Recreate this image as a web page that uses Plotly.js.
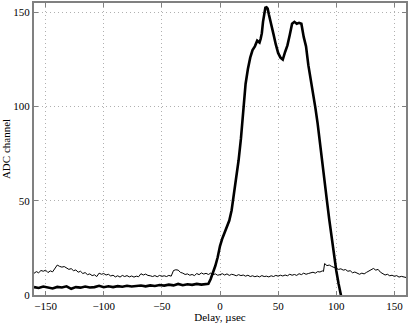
<!DOCTYPE html>
<html>
<head>
<meta charset="utf-8">
<script src="https://cdn.plot.ly/plotly-3.0.1.min.js"></script>
<style>
  html, body { margin: 0; padding: 0; background: #fff; }
  #plot { width: 409px; height: 323px; }
</style>
</head>
<body>
<div id="plot"></div>
<script>
// 細線（バックグラウンド）
const delayThin = [
  -160, -158, -156, -154, -152, -150, -148, -146, -144, -142, -140, -138, -136, -134, -132, -130,
  -128, -126, -124, -122, -120, -118, -116, -114, -112, -110, -108, -106, -104, -102, -100, -98,
  -96, -94, -92, -90, -88, -86, -84, -82, -80, -78, -76, -74, -72, -70, -68, -66,
  -64, -62, -60, -58, -56, -54, -52, -50, -48, -46, -44, -42, -40, -38, -36, -34,
  -32, -30, -28, -26, -24, -22, -20, -18, -16, -14, -12, -10, -8, -6, -4, -2,
  0, 2, 4, 6, 8, 10, 12, 14, 16, 18, 20, 22, 24, 26, 28, 30,
  32, 34, 36, 38, 40, 42, 44, 46, 48, 50, 52, 54, 56, 58, 60, 62,
  64, 66, 68, 70, 72, 74, 76, 78, 80, 82, 84, 86, 88, 89, 90, 92,
  94, 96, 98, 100, 102, 104, 106, 108, 110, 112, 114, 116, 118, 120, 122, 124,
  126, 128, 130, 132, 134, 136, 138, 140, 142, 144, 146, 148, 150, 152, 154, 156, 158, 160
];
const adcThin = [
  11.5, 12.4, 11.8, 13.0, 12.6, 13.2, 11.9, 12.8, 12.3, 14.2, 15.9, 15.2, 14.8, 15.1, 14.2, 13.6,
  14.0, 12.9, 13.3, 12.1, 12.6, 11.4, 11.9, 10.8, 11.2, 10.3, 10.7, 9.8, 11.6, 11.0, 11.4, 10.6,
  11.0, 10.1, 10.5, 9.6, 10.2, 9.5, 10.4, 9.8, 10.3, 9.6, 10.1, 9.5, 10.0, 9.7, 11.3, 10.6,
  11.1, 10.4, 10.2, 9.8, 10.3, 9.7, 10.4, 9.9, 10.2, 9.8, 10.4, 10.0, 13.0, 13.4, 13.2, 12.0,
  11.6, 10.9, 11.2, 10.5, 10.9, 10.3, 11.4, 10.8, 11.7, 11.1, 11.5, 10.9, 11.6, 10.8, 11.2, 10.5,
  10.8, 11.3, 10.6, 11.2, 10.4, 11.0, 10.7, 10.2, 10.8, 10.3, 10.6, 10.0, 10.5, 9.8, 10.2, 9.7,
  10.1, 9.6, 10.3, 9.8, 10.0, 9.6, 10.2, 9.8, 10.4, 10.0, 10.5, 10.1, 10.6, 10.2, 11.0, 10.5,
  10.9, 10.4, 11.3, 10.8, 11.6, 11.0, 11.4, 11.9, 12.1, 11.6, 12.4, 12.2, 12.8, 12.5, 16.7, 15.6,
  15.9, 15.2, 14.6, 14.1, 13.6, 13.9, 13.2, 13.5, 12.6, 12.9, 11.8, 12.2, 11.4, 11.0, 11.6, 11.2,
  12.0, 12.6, 13.4, 14.1, 13.2, 13.6, 12.1, 11.3, 10.6, 11.0, 10.2, 10.5, 9.9, 10.3, 9.5, 9.9, 9.4, 9.3
];

// 太線（信号）
const delayThick = [
  -160, -156, -152, -148, -144, -140, -136, -132, -128, -124, -120, -116, -112, -108, -104, -100,
  -96, -92, -88, -84, -80, -76, -72, -68, -64, -60, -56, -52, -48, -44, -40, -36,
  -32, -28, -24, -20, -16, -12, -10, -8, -6, -4, -2, 0, 2, 4, 6, 8,
  10, 12, 14, 16, 18, 20, 22, 24, 26, 28, 30, 32, 34, 35, 36, 37,
  38, 39, 40, 41, 42, 44, 46, 48, 50, 52, 54, 56, 58, 60, 62, 64,
  66, 68, 70, 72, 74, 76, 78, 80, 82, 84, 86, 88, 90, 92, 94, 96,
  98, 100, 102, 104, 105
];
const adcThick = [
  4.2, 3.7, 4.5, 4.0, 3.5, 4.3, 4.0, 4.6, 3.3, 4.2, 3.9, 4.5, 4.0, 4.2, 4.9, 4.1,
  4.6, 4.2, 4.7, 4.4, 4.9, 4.5, 4.8, 5.0, 4.6, 5.1, 4.8, 5.3, 5.0, 5.5, 5.1, 5.9,
  5.2, 5.7, 5.4, 5.9, 5.5, 5.8, 6.0, 8.5, 11.5, 15.5, 20.0, 26.0, 30.0, 33.0, 36.0, 39.5,
  45.0, 53.0, 62.0, 71.5, 83.0, 97.0, 112.0, 120.0, 126.0, 130.0, 132.0, 135.0, 134.0, 136.0, 139.0, 145.0,
  150.0, 152.5, 152.7, 152.0, 149.0, 143.0, 138.5, 133.0, 128.5, 126.0, 125.0, 129.0, 132.5, 138.0, 144.0, 145.0,
  144.0, 144.5, 144.0, 137.0, 132.0, 122.0, 115.0, 107.0, 99.5, 91.0, 80.0, 70.0, 60.0, 50.0, 40.0, 30.0,
  21.0, 13.0, 6.0, 0.5, -3.0
];

const xTicks = [-150, -100, -50, 0, 50, 100, 150];
const yTicks = [0, 50, 100, 150];

const AXIS_BASE = {
  showline: true, mirror: 'ticks', linecolor: '#808080', linewidth: 2,
  ticks: 'inside', ticklen: 4, tickcolor: '#808080', tickwidth: 1,
  showgrid: true, gridcolor: '#b0b0b0', griddash: '1px,3px', gridwidth: 1,
  zeroline: false, tickfont: { size: 11, color: '#000' },
};

const traces = [
  {
    x: delayThin, y: adcThin, mode: 'lines', showlegend: false,
    line: { color: '#000', width: 1 },
  },
  {
    x: delayThick, y: adcThick, mode: 'lines', showlegend: false,
    line: { color: '#000', width: 2.6 },
  },
];

const layout = {
  width: 409, height: 323,
  margin: { l: 34, r: 3, t: 3, b: 28 },
  paper_bgcolor: '#fff', plot_bgcolor: '#fff',
  font: { family: '"Liberation Serif", "DejaVu Serif", serif', size: 11, color: '#000' },
  xaxis: Object.assign({}, AXIS_BASE, {
    range: [-160, 160], tickmode: 'array', tickvals: xTicks,
    ticktext: xTicks.map((v) => (v < 0 ? '\u2212' + Math.abs(v) : String(v))),
    title: { text: 'Delay, \u00b5sec', font: { size: 11 }, standoff: 2 },
  }),
  yaxis: Object.assign({}, AXIS_BASE, {
    range: [0, 155], tickmode: 'array', tickvals: yTicks,
    title: { text: 'ADC channel', font: { size: 11 }, standoff: 6 },
  }),
};

Plotly.newPlot('plot', traces, layout, { displayModeBar: false, staticPlot: true });
</script>
</body>
</html>
